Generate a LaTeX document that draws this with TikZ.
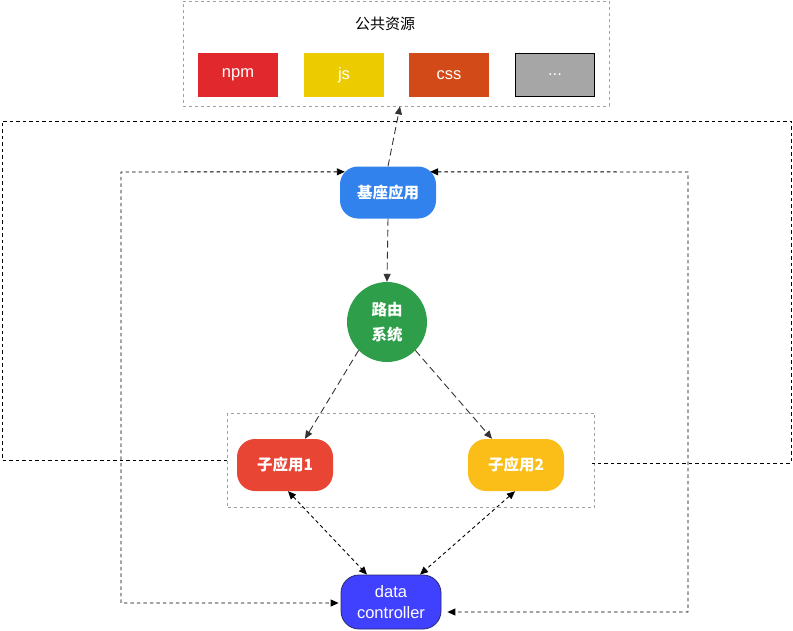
\documentclass[tikz,border=0pt]{standalone}
\usepackage{fontspec}
\setmainfont{Liberation Sans}
\newfontfamily\cjk{Noto Sans CJK SC}
\usetikzlibrary{arrows.meta,calc}
\definecolor{cnpm}{RGB}{224,40,45}
\definecolor{cjs}{RGB}{236,203,0}
\definecolor{ccss}{RGB}{210,74,23}
\definecolor{cdots}{RGB}{166,166,166}
\definecolor{cbase}{RGB}{49,130,236}
\definecolor{croute}{RGB}{46,158,74}
\definecolor{cchildA}{RGB}{232,69,53}
\definecolor{cchildB}{RGB}{251,189,24}
\definecolor{cdata}{RGB}{64,64,255}
\definecolor{cdataline}{RGB}{40,40,110}
\definecolor{cgroup}{RGB}{160,160,160}
\tikzset{
  groupbox/.style={draw=cgroup, dash pattern=on 3pt off 3pt, line width=0.8pt, inner sep=0pt},
  resbox/.style={minimum width=80pt, minimum height=44pt, inner sep=0pt, text=white, font=\fontsize{16.5}{19}\selectfont},
  appbox/.style={rounded corners=18pt, minimum width=96pt, minimum height=52pt, inner sep=0pt, text=white, font=\cjk\bfseries\fontsize{15.5}{18}\selectfont},
  tip/.style={-{Triangle[length=8pt,width=7pt]}},
  bitip/.style={{Triangle[length=8pt,width=7pt]}-{Triangle[length=8pt,width=7pt]}},
  longdash/.style={draw=black!80, line width=0.9pt, dash pattern=on 7pt off 4pt},
  shortdash/.style={draw=black, line width=0.9pt, dash pattern=on 3.5pt off 3pt},
}
\begin{document}
\begin{tikzpicture}[x=1pt,y=-1pt]
\useasboundingbox (0,0) rectangle (793,630);
% public resources
\node[groupbox, minimum width=426pt, minimum height=105pt] (pub) at (396,53.5) {};
\node[font=\cjk\fontsize{15}{17}\selectfont] (pubt) at (385,24) {公共资源};
\node[resbox, fill=cnpm] (npm) at (238,75) {npm};
\node[resbox, fill=cjs] (js) at (344,75) {js};
\node[resbox, fill=ccss] (css) at (449,75) {css};
\node[resbox, fill=cdots, draw=black, line width=0.9pt, minimum width=79pt, minimum height=43pt] (more) at (555,75) {...};
% apps
\node[appbox, fill=cbase] (base) at (388,192.5) {基座应用};
\node[circle, fill=croute, minimum size=80pt, inner sep=0pt, text=white, align=center,
  font=\cjk\bfseries\fontsize{15.5}{25}\selectfont] (router) at (387,322) {路由\\系统};
\node[groupbox, minimum width=367pt, minimum height=94pt] (group) at (411,460) {};
\node[appbox, fill=cchildA] (childA) at (285,465) {子应用1};
\node[appbox, fill=cchildB] (childB) at (516,465) {子应用2};
\node[appbox, fill=cdata, draw=cdataline, line width=0.8pt, minimum width=100pt, minimum height=54pt,
  align=center, font=\fontsize{16.5}{21}\selectfont] (data) at (391,602) {data\\controller};
% connectors
\draw[longdash, tip] (base.north) -- ([xshift=4pt]pub.south);
\draw[longdash, tip] (base.south) -- (router.north);
\draw[longdash, tip] (router.225) -- ([xshift=20pt]childA.north);
\draw[longdash, tip] (router.-45) -- ([xshift=-24pt]childB.north);
\draw[shortdash, bitip] ([xshift=3pt]childA.south) -- ([xshift=-24pt]data.north);
\draw[shortdash, bitip] ([xshift=-1pt]childB.south) -- ([xshift=29pt]data.north);
% outer loop
\coordinate (oR) at (592,463);
\draw[shortdash] (group.west) -- (2,460) -- (2,121) -- (791,121) -- (791,463) -- (oR);
% inner loops
\draw[shortdash, bitip] ($(base.north west)+(5,5.5)$) -- (121,172) -- (121,603) -- ($(data.west)+(-2,1)$);
\draw[shortdash, bitip] ($(base.north east)+(-6,5.5)$) -- (688,172) -- (688,612) -- ($(data.east)+(6,10)$);
\end{tikzpicture}
\end{document}
